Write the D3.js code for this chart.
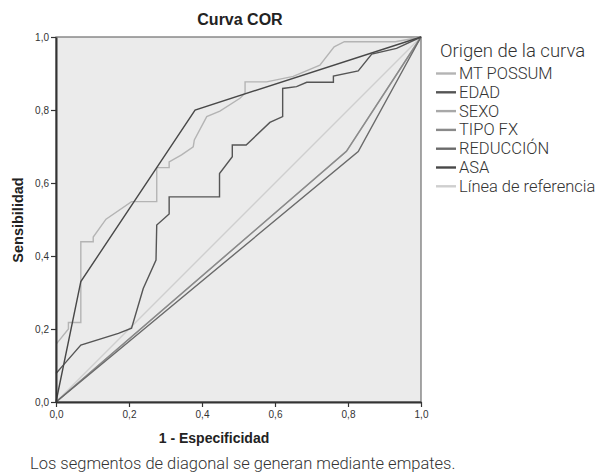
<!DOCTYPE html>
<html>
<head>
<meta charset="utf-8">
<script src="https://cdn.jsdelivr.net/npm/d3@7"></script>
<style>
body { margin: 0; background: #fff; }
text { font-family: "Liberation Sans", Arial, sans-serif; }
.lab { font-family: Roboto, "Liberation Sans", sans-serif; font-weight: 300; fill: #333; }
</style>
</head>
<body>
<div id="chart"></div>
<script>
// series: [1 - especificidad, sensibilidad]
var mtPossum = [[0,0.158],[0.034,0.2],[0.034,0.218],[0.068,0.218],[0.068,0.439],[0.102,0.439],[0.102,0.452],
  [0.137,0.501],[0.207,0.549],[0.276,0.549],[0.276,0.642],[0.31,0.642],[0.31,0.658],[0.344,0.677],[0.376,0.699],
  [0.379,0.718],[0.413,0.782],[0.449,0.797],[0.504,0.832],[0.518,0.846],[0.518,0.877],[0.577,0.877],[0.65,0.892],
  [0.723,0.923],[0.762,0.973],[0.79,0.987],[0.93,0.987],[1,1]]
var edad = [[0,0.078],[0.02,0.101],[0.068,0.156],[0.171,0.188],[0.207,0.202],[0.239,0.311],[0.274,0.389],
  [0.276,0.485],[0.31,0.515],[0.31,0.562],[0.448,0.562],[0.448,0.626],[0.483,0.672],[0.483,0.704],[0.521,0.704],
  [0.586,0.766],[0.621,0.782],[0.621,0.859],[0.659,0.864],[0.687,0.876],[0.76,0.876],[0.76,0.893],[0.828,0.907],
  [0.865,0.953],[0.933,0.969],[1,1]]
var sexo = [[0,0],[0.797,0.688],[1,1]]
var tipoFx = [[0,0],[0.795,0.686],[1,1]]
var reduccion = [[0,0],[0.828,0.686],[1,1]]
var asa = [[0,0],[0.068,0.33],[0.381,0.8],[1,1]]
var referencia = [[0,0],[1,1]]

var seriesNames = ["MT POSSUM","EDAD","SEXO","TIPO FX","REDUCCIÓN","ASA","Línea de referencia"]
var seriesData = [mtPossum, edad, sexo, tipoFx, reduccion, asa, referencia]
var seriesColors = ["#b4b4b4","#555555","#a8a8a8","#8a8a8a","#6a6a6a","#484848","#cfcfcf"]
var ticks = [0, 0.2, 0.4, 0.6, 0.8, 1.0]

var W = 597, H = 473
var svg = d3.select("#chart").append("svg").attr("width", W).attr("height", H)

var x = d3.scaleLinear().domain([0,1]).range([56,421])
var y = d3.scaleLinear().domain([0,1]).range([402,37])

svg.append("rect").attr("x", x(0)).attr("y", y(1))
  .attr("width", x(1)-x(0)).attr("height", y(0)-y(1))
  .attr("fill", "#ebebeb").attr("stroke", "#6e6e6e").attr("stroke-width", 1.2)

var fmt = function(d){ return d3.format(".1f")(d).replace(".", ",") }

var line = d3.line().x(function(d){ return x(d[0]) }).y(function(d){ return y(d[1]) })

// draw reference first, then the rest on top
var order = [6,0,2,3,4,1,5]
order.forEach(function(i){
  svg.append("path").datum(seriesData[i])
    .attr("d", line).attr("fill", "none")
    .attr("stroke", seriesColors[i]).attr("stroke-width", 1.4)
})

var xAxis = svg.append("g").attr("transform", "translate(0," + y(0) + ")")
  .call(d3.axisBottom(x).tickValues(ticks).tickFormat(fmt).tickSize(5).tickSizeOuter(0))
var yAxis = svg.append("g").attr("transform", "translate(" + x(0) + ",0)")
  .call(d3.axisLeft(y).tickValues(ticks).tickFormat(fmt).tickSize(5).tickSizeOuter(0))
;[xAxis, yAxis].forEach(function(g){
  g.select(".domain").attr("stroke", "#333").attr("stroke-width", 2)
  g.selectAll(".tick line").attr("stroke", "#333").attr("stroke-width", 1.2)
  g.selectAll(".tick text").attr("fill", "#333").style("font-size", "10px")
})
xAxis.selectAll(".tick text").attr("dy", "0.75em")
yAxis.selectAll(".tick text").attr("dx", "0.1em")

svg.append("text").attr("x", 240).attr("y", 25).attr("text-anchor", "middle")
  .style("font-size", "16px").style("font-weight", "bold").attr("fill", "#222").text("Curva COR")
svg.append("text").attr("x", 214).attr("y", 443).attr("text-anchor", "middle")
  .style("font-size", "14px").style("font-weight", "bold").attr("fill", "#222").text("1 - Especificidad")
svg.append("text").attr("transform", "translate(23,220) rotate(-90)").attr("text-anchor", "middle")
  .style("font-size", "14.5px").style("font-weight", "bold").attr("fill", "#222").text("Sensibilidad")

// legend
svg.append("text").attr("class", "lab").attr("x", 440).attr("y", 57)
  .style("font-size", "18.5px").text("Origen de la curva")
var leg = svg.selectAll(".leg").data(seriesNames).enter().append("g")
  .attr("class", "leg")
  .attr("transform", function(d, i){ return "translate(436," + (73.5 + i*18.8) + ")" })
leg.append("line").attr("x1", 0).attr("x2", 20).attr("y1", 0).attr("y2", 0)
  .attr("stroke", function(d, i){ return seriesColors[i] }).attr("stroke-width", 2.4)
leg.append("text").attr("class", "lab").attr("x", 23).attr("y", 5.5)
  .style("font-size", "16.5px").text(function(d){ return d })

svg.append("text").attr("class", "lab").attr("x", 30).attr("y", 469)
  .style("font-size", "16.5px").text("Los segmentos de diagonal se generan mediante empates.")
</script>
</body>
</html>
